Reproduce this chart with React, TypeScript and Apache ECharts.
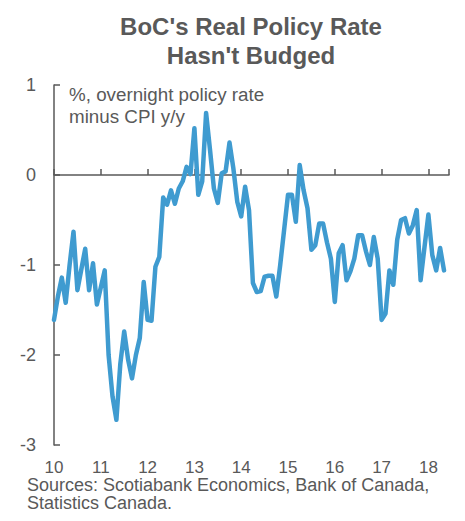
import React, { useEffect, useRef } from "react";
import * as echarts from "echarts";

const startYear = 2010;
// Monthly real policy rate, Jan 2010 .. May 2018 (%)
const realRate: number[] = [
  -1.61, -1.35, -1.14, -1.42, -1.0, -0.63, -1.28, -1.05, -0.82, -1.28, -0.98, -1.44,
  -1.25, -1.06, -2.0, -2.46, -2.72, -2.1, -1.74, -2.05, -2.26, -2.0, -1.81, -1.19,
  -1.61, -1.62, -1.02, -0.91, -0.25, -0.33, -0.17, -0.32, -0.15, -0.07, 0.09, 0.01,
  0.52, -0.22, -0.07, 0.69, 0.28, -0.15, -0.31, 0.02, 0.04, 0.36, 0.07, -0.3,
  -0.46, -0.13, -0.39, -1.2, -1.3, -1.29, -1.13, -1.12, -1.12, -1.35, -1.0, -0.61,
  -0.22, -0.22, -0.52, 0.11, -0.17, -0.37, -0.83, -0.78, -0.54, -0.54, -0.75, -0.93,
  -1.41, -0.87, -0.78, -1.17, -1.07, -0.93, -0.67, -0.67, -0.85, -1.0, -0.69, -0.93,
  -1.61, -1.54, -1.06, -1.22, -0.72, -0.5, -0.48, -0.65, -0.56, -0.39, -1.17, -0.8,
  -0.44, -0.89, -1.06, -0.81, -1.06,
];
const yTicks = [-3, -2, -1, 0, 1];
const titleLines = ["BoC's Real Policy Rate", "Hasn't Budged"];
const unitLines = ["%, overnight policy rate", "minus CPI y/y"];
const sourceLines = ["Sources: Scotiabank Economics, Bank of Canada,", "Statistics Canada."];

const FONT = "'Liberation Sans', Arial, sans-serif";
const GREY = "#595959";

export default function App() {
  const ref = useRef<HTMLDivElement>(null);
  useEffect(() => {
    if (!ref.current) return;
    const chart = echarts.init(ref.current, undefined, { renderer: "svg" });
    const data = realRate.map((v, i) => [startYear + i / 12, v]);
    const xMin = startYear;
    const xMax = 2018.44;
    chart.setOption({
      animation: false,
      backgroundColor: "#ffffff",
      title: {
        text: titleLines.join("\n"),
        left: 246,
        textAlign: "center",
        top: 7,
        textStyle: {
          fontFamily: FONT,
          fontWeight: "bold",
          fontSize: 24,
          color: GREY,
          lineHeight: 29,
        },
      },
      graphic: [
        {
          type: "text",
          left: 69,
          top: 83,
          style: {
            text: unitLines.join("\n"),
            font: `18.8px ${FONT}`,
            fill: GREY,
            lineHeight: 22,
          },
        },
        {
          type: "text",
          left: 27,
          top: 476,
          style: {
            text: sourceLines[0],
            font: `18px ${FONT}`,
            fill: GREY,
            lineHeight: 18,
          },
        },
        {
          type: "text",
          left: 27,
          top: 494,
          style: {
            text: sourceLines[1],
            font: `18px ${FONT}`,
            fill: GREY,
            lineHeight: 18,
          },
        },
      ],
      grid: { left: 54, right: 16, top: 85, bottom: 76, containLabel: false },
      xAxis: [
        {
          type: "value",
          min: xMin,
          max: xMax,
          interval: 1,
          position: "bottom",
          axisLine: { show: true, onZero: true, lineStyle: { color: GREY, width: 1.5 } },
          axisTick: { show: true, inside: true, length: 6, lineStyle: { color: GREY, width: 1.5 } },
          axisLabel: { show: false },
          splitLine: { show: false },
        },
        {
          type: "value",
          min: xMin,
          max: xMax,
          interval: 1,
          position: "bottom",
          axisLine: { show: false, onZero: false },
          axisTick: { show: false },
          splitLine: { show: false },
          axisLabel: {
            show: true,
            margin: 15,
            showMaxLabel: false,
            formatter: (v: number) => String(Math.round(v) - 2000),
            fontFamily: FONT,
            fontSize: 17,
            lineHeight: 14,
            color: GREY,
          },
        },
      ],
      yAxis: {
        type: "value",
        min: yTicks[0],
        max: yTicks[yTicks.length - 1],
        interval: 1,
        axisLine: { show: true, lineStyle: { color: GREY, width: 1.5 } },
        axisTick: { show: true, inside: true, length: 6, lineStyle: { color: GREY, width: 1.5 } },
        axisLabel: { margin: 18, fontFamily: FONT, fontSize: 18, color: GREY },
        splitLine: { show: false },
      },
      series: [
        {
          type: "line",
          xAxisIndex: 0,
          data,
          showSymbol: false,
          symbol: "none",
          lineStyle: { color: "#3f9bd0", width: 4.5, join: "round", cap: "round" },
          z: 1,
        },
      ],
    });
    return () => chart.dispose();
  }, []);
  return (
    <div
      ref={ref}
      style={{ position: "fixed", left: 0, top: 0, width: 465, height: 521 }}
    />
  );
}
